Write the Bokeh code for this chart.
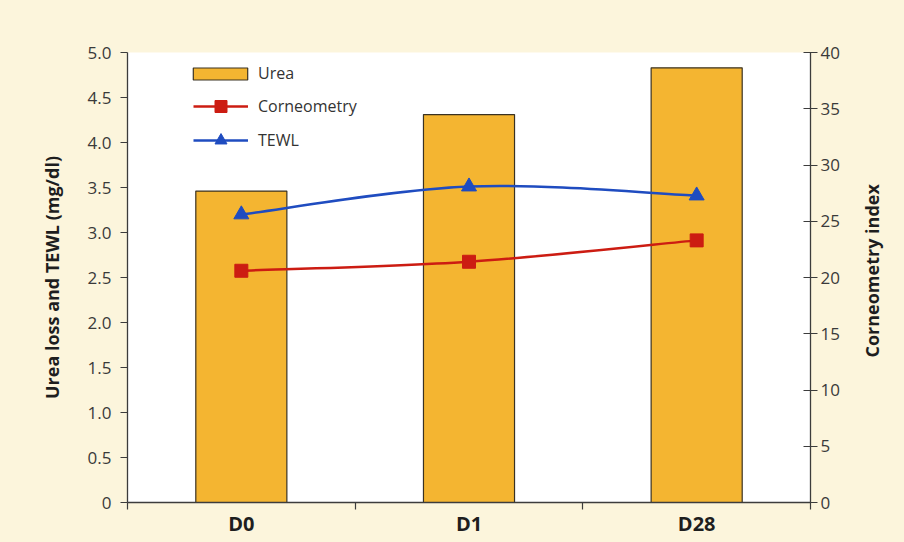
import math
import numpy as np
from bokeh.plotting import figure
from bokeh.layouts import row
from bokeh.models import Range1d, LinearAxis, FixedTicker, Legend, LegendItem
from bokeh.core.properties import value
from bokeh.embed import file_html
from bokeh.resources import INLINE

# Measurement days and values
categories = ["D0", "D1", "D28"]
urea = [3.46, 4.31, 4.83]            # mg/dl, left axis
tewl = [3.20, 3.51, 3.41]            # left axis
corneometry = [20.6, 21.4, 23.3]     # index, right axis

left_ticks = [0, 0.5, 1.0, 1.5, 2.0, 2.5, 3.0, 3.5, 4.0, 4.5, 5.0]
left_tick_labels = ["0", "0.5", "1.0", "1.5", "2.0", "2.5", "3.0", "3.5", "4.0", "4.5", "5.0"]
right_ticks = [0, 5, 10, 15, 20, 25, 30, 35, 40]
right_tick_labels = ["0", "5", "10", "15", "20", "25", "30", "35", "40"]
right_title = "Corneometry index"

BAR = "#f4b531"
RED = "#cc1c12"
BLUE = "#1f4cc0"
AXIS = "#3c3c3c"
CREAM = "#fcf5dc"
TICK_FONT = "Open Sans"
TITLE_FONT = "Open Sans"

# categories sit at the middle of unit-wide slots
xc = np.arange(len(categories)) + 0.5

p = figure(width=850, height=542, output_backend="svg", toolbar_location=None,
           x_range=Range1d(0, len(categories)), y_range=Range1d(0, 5),
           min_border_left=127, min_border_right=40, min_border_top=52, min_border_bottom=40,
           styles={"background-color": CREAM})
p.extra_y_ranges = {"corn": Range1d(0, 40)}
p.background_fill_color = "white"
p.border_fill_color = CREAM
p.outline_line_color = None
p.grid.visible = False


def smooth_segments(xs, ys):
    """Catmull-Rom style cubic segments through the points."""
    xs = np.asarray(xs, float)
    ys = np.asarray(ys, float)
    n = len(xs)
    seg = dict(x0=[], y0=[], x1=[], y1=[], cx0=[], cy0=[], cx1=[], cy1=[])
    for i in range(n - 1):
        im = max(i - 1, 0)
        ip = min(i + 2, n - 1)
        seg["x0"].append(xs[i]); seg["y0"].append(ys[i])
        seg["x1"].append(xs[i + 1]); seg["y1"].append(ys[i + 1])
        seg["cx0"].append(xs[i] + (xs[i + 1] - xs[im]) / 6)
        seg["cy0"].append(ys[i] + (ys[i + 1] - ys[im]) / 6)
        seg["cx1"].append(xs[i + 1] - (xs[ip] - xs[i]) / 6)
        seg["cy1"].append(ys[i + 1] - (ys[ip] - ys[i]) / 6)
    return seg


bars = p.vbar(x=xc, top=urea, width=0.4, fill_color=BAR, line_color="#3a3222", line_width=1.2)

corn_curve = p.bezier(**smooth_segments(xc, corneometry), line_color=RED, line_width=2.5,
                      y_range_name="corn")
corn_pts = p.scatter(xc, corneometry, marker="square", size=13, fill_color=RED,
                     line_color=RED, y_range_name="corn")

tewl_curve = p.bezier(**smooth_segments(xc, tewl), line_color=BLUE, line_width=2.5)
tewl_pts = p.scatter(xc, tewl, marker="triangle", size=15, fill_color=BLUE, line_color=BLUE)

# left axis
ly = p.yaxis[0]
ly.ticker = FixedTicker(ticks=left_ticks)
ly.major_label_overrides = dict(zip(left_ticks, left_tick_labels))
ly.axis_label = "Urea loss and TEWL (mg/dl)"

# right axis
ry = LinearAxis(y_range_name="corn", ticker=FixedTicker(ticks=right_ticks))
ry.major_label_overrides = dict(zip(right_ticks, right_tick_labels))
p.add_layout(ry, "right")

for ax in (ly, ry):
    ax.axis_line_color = AXIS
    ax.axis_line_width = 1.3
    ax.major_tick_line_color = AXIS
    ax.major_tick_line_width = 1.2
    ax.minor_tick_line_color = None
    ax.major_label_text_font = TICK_FONT
    ax.major_label_text_font_size = "17px"
    ax.major_label_text_color = "#3a3a3a"
    ax.axis_label_text_font = TITLE_FONT
    ax.axis_label_text_font_size = "18px"
    ax.axis_label_text_font_style = "bold"
    ax.axis_label_text_color = "#1e1e1e"

ly.major_tick_out = 7
ly.major_tick_in = 0
ly.major_label_standoff = 9
ly.axis_label_standoff = 21

ry.major_tick_out = 7
ry.major_tick_in = 7
ry.major_label_standoff = 3

# bottom axis: labels at slot centres, ticks at slot edges
bx = p.xaxis[0]
bx.ticker = FixedTicker(ticks=list(xc), minor_ticks=list(range(len(categories) + 1)))
bx.major_label_overrides = dict(zip(list(xc), categories))
bx.major_tick_line_color = None
bx.minor_tick_line_color = AXIS
bx.minor_tick_line_width = 1.2
bx.minor_tick_out = 7
bx.minor_tick_in = 0
bx.axis_line_color = AXIS
bx.axis_line_width = 1.3
bx.major_label_standoff = 0
bx.major_label_text_font = TITLE_FONT
bx.major_label_text_font_size = "20px"
bx.major_label_text_font_style = "bold"
bx.major_label_text_color = "#1e1e1e"

legend_style = dict(padding=0, margin=0, border_line_color=None, background_fill_alpha=0,
                    label_text_font=TICK_FONT, label_text_font_size="16px",
                    label_text_color="#333333")

leg1 = Legend(items=[LegendItem(label="Urea", renderers=[bars])], location=(59, 418),
              glyph_width=68, glyph_height=15, label_standoff=4, label_height=15, **legend_style)
leg2 = Legend(items=[LegendItem(label="Corneometry", renderers=[corn_curve, corn_pts]),
                     LegendItem(label="TEWL", renderers=[tewl_curve, tewl_pts])],
              location=(66, 347), glyph_width=55, glyph_height=30, label_standoff=10,
              label_height=30, spacing=4, **legend_style)
p.add_layout(leg1)
p.add_layout(leg2)

# narrow strip beside the chart carrying the right-hand axis title (bottom-to-top)
side = figure(width=54, height=542, output_backend="svg", toolbar_location=None,
              x_range=Range1d(0, 54), y_range=Range1d(0, 542),
              x_axis_location=None, y_axis_location=None,
              min_border_left=0, min_border_right=0, min_border_top=0, min_border_bottom=0,
              styles={"background-color": CREAM})
side.background_fill_color = CREAM
side.border_fill_color = CREAM
side.outline_line_color = None
side.grid.visible = False
side.text(x=[21], y=[279], text=[right_title], angle=math.pi / 2,
          text_align="center", text_baseline="middle", text_font=value(TITLE_FONT),
          text_font_size="18px", text_font_style="bold", text_color="#1e1e1e")

layout = row(p, side, spacing=0, styles={"background-color": CREAM})
open("out.html", "w").write(file_html(layout, INLINE))
